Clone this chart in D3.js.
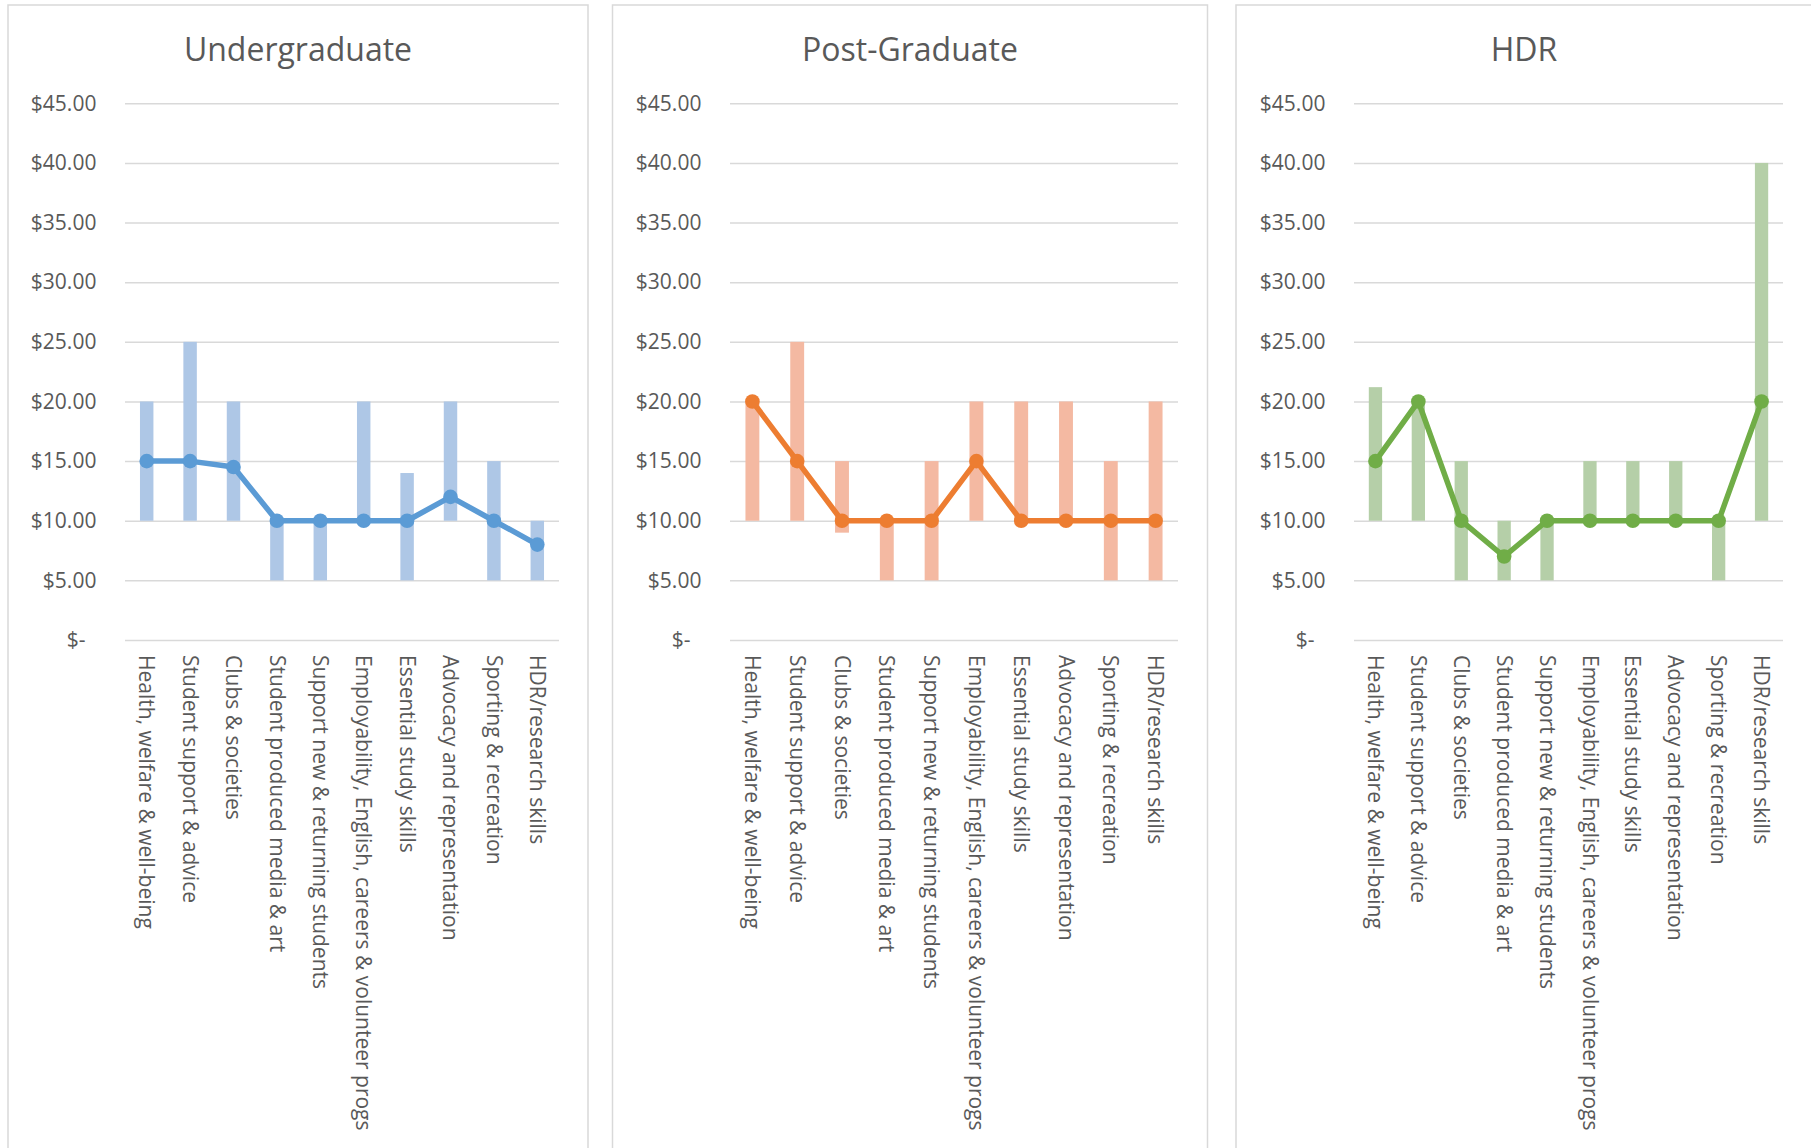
<!DOCTYPE html>
<html>
<head>
<meta charset="utf-8">
<script src="https://cdn.jsdelivr.net/npm/d3@7"></script>
<style>
  html, body { margin: 0; padding: 0; background: #ffffff; }
  svg { display: block; }
  text { font-family: "Open Sans", "Noto Sans", sans-serif; fill: #595959; }
</style>
</head>
<body>
<svg id="chart" width="1811" height="1148"></svg>
<script>
// Service categories (x axis)
const categories = [
  "Health, welfare & well-being",
  "Student support & advice",
  "Clubs & societies",
  "Student produced media & art",
  "Support new & returning students",
  "Employability, English, careers & volunteer progs",
  "Essential study skills",
  "Advocacy and representation",
  "Sporting & recreation",
  "HDR/research skills"
];

// Y axis ticks and their labels
const tickValues = [0, 5, 10, 15, 20, 25, 30, 35, 40, 45];
const tickLabels = ["$-", "$5.00", "$10.00", "$15.00", "$20.00", "$25.00", "$30.00", "$35.00", "$40.00", "$45.00"];

// Undergraduate: range low / high and typical amount
const ugLow  = [10, 10, 10, 5, 5, 10, 5, 10, 5, 5];
const ugHigh = [20, 25, 20, 10, 10, 20, 14, 20, 15, 10];
const ugMid  = [15, 15, 14.5, 10, 10, 10, 10, 12, 10, 8];

// Post-Graduate
const pgLow  = [10, 10, 9, 5, 5, 10, 10, 10, 5, 5];
const pgHigh = [20, 25, 15, 10, 15, 20, 20, 20, 15, 20];
const pgMid  = [20, 15, 10, 10, 10, 15, 10, 10, 10, 10];

// HDR
const hdrLow  = [10, 10, 5, 5, 5, 10, 10, 10, 5, 10];
const hdrHigh = [21.2, 20, 15, 10, 10, 15, 15, 15, 10, 40];
const hdrMid  = [15, 20, 10, 7, 10, 10, 10, 10, 10, 20];

const titles = ["Undergraduate", "Post-Graduate", "HDR"];

const panels = [
  { title: titles[0], low: ugLow,  high: ugHigh,  mid: ugMid,
    line: "#5B9BD5", bar: "#AEC7E6",
    box: [8, 588], plot: [125, 559] },
  { title: titles[1], low: pgLow,  high: pgHigh,  mid: pgMid,
    line: "#ED7D31", bar: "#F4B9A2",
    box: [612.5, 1207.5], plot: [730, 1178] },
  { title: titles[2], low: hdrLow, high: hdrHigh, mid: hdrMid,
    line: "#70AD47", bar: "#B5CFA8",
    box: [1236, 1812], plot: [1354, 1783] }
];

const svg = d3.select("#chart");
const y = d3.scaleLinear().domain([0, 45]).range([640, 103.3]);

panels.forEach(p => {
  const g = svg.append("g");

  // chart frame
  g.append("rect")
    .attr("x", p.box[0]).attr("y", 5)
    .attr("width", p.box[1] - p.box[0]).attr("height", 1200)
    .attr("fill", "#ffffff")
    .attr("stroke", "#d9d9d9").attr("stroke-width", 1.5);

  // title
  g.append("text")
    .attr("x", (p.box[0] + p.box[1]) / 2)
    .attr("y", 61)
    .attr("text-anchor", "middle")
    .style("font-size", "32px")
    .text(p.title);

  const x = d3.scaleBand().domain(categories).range(p.plot).padding(0);
  const plotW = p.plot[1] - p.plot[0];

  // value axis with gridlines
  const axis = d3.axisLeft(y)
    .tickValues(tickValues)
    .tickFormat((d, i) => tickLabels[i])
    .tickSize(-plotW)
    .tickPadding(28.6);
  const ax = g.append("g")
    .attr("transform", `translate(${p.plot[0]},0)`)
    .call(axis);
  ax.select(".domain").remove();
  ax.selectAll(".tick line").attr("stroke", "#d9d9d9").attr("stroke-width", 1.5);
  ax.selectAll(".tick text")
    .style("font-size", "21px")
    .attr("fill", "#595959")
    .style("font-family", "'Open Sans', sans-serif")
    .attr("dx", d => d === 0 ? -11 : 0);

  // range bars
  const bw = x.bandwidth() * 0.31;
  g.append("g").selectAll("rect")
    .data(categories)
    .join("rect")
    .attr("x", d => x(d) + x.bandwidth() / 2 - bw / 2)
    .attr("width", bw)
    .attr("y", (d, i) => y(p.high[i]))
    .attr("height", (d, i) => y(p.low[i]) - y(p.high[i]))
    .attr("fill", p.bar);

  // typical amount line
  const line = d3.line()
    .x((d, i) => x(categories[i]) + x.bandwidth() / 2)
    .y(d => y(d));
  g.append("path")
    .datum(p.mid)
    .attr("d", line)
    .attr("fill", "none")
    .attr("stroke", p.line)
    .attr("stroke-width", 5.5)
    .attr("stroke-linejoin", "round");

  g.append("g").selectAll("circle")
    .data(p.mid)
    .join("circle")
    .attr("cx", (d, i) => x(categories[i]) + x.bandwidth() / 2)
    .attr("cy", d => y(d))
    .attr("r", 7.3)
    .attr("fill", p.line);

  // category labels, rotated to read top-to-bottom
  g.append("g").selectAll("text")
    .data(categories)
    .join("text")
    .attr("transform", d => `translate(${x(d) + x.bandwidth() / 2},655) rotate(90)`)
    .attr("dy", "0.35em")
    .attr("text-anchor", "start")
    .style("font-size", "21px")
    .text(d => d);
});
</script>
</body>
</html>
